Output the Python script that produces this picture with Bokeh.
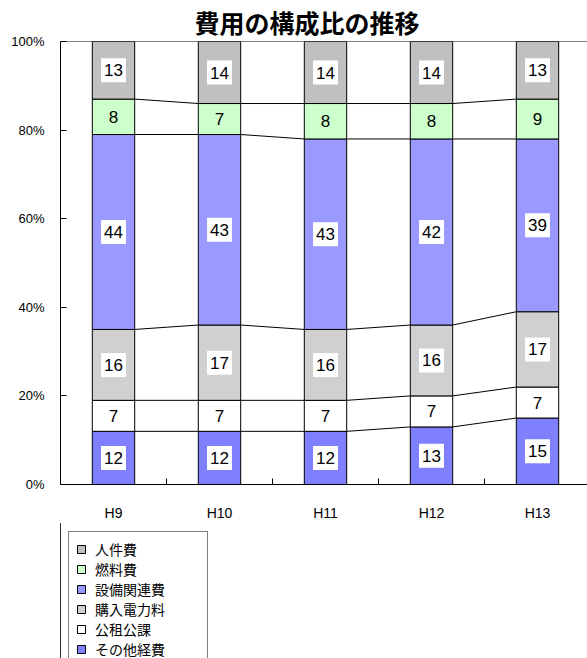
import numpy as np
from bokeh.plotting import figure
from bokeh.layouts import column
from bokeh.models import (ColumnDataSource, Range1d, FixedTicker, Legend, LegendItem,
                          PrintfTickFormatter, Span)
from bokeh.core.properties import value
from bokeh.embed import file_html
from bokeh.resources import INLINE

# ---- data (percent shares, bottom to top) ----
categories = ["H9", "H10", "H11", "H12", "H13"]
series_names = ["その他経費", "公租公課", "購入電力料", "設備関連費", "燃料費", "人件費"]
other_costs = [12, 12, 12, 13, 15]
taxes = [7, 7, 7, 7, 7]
purchased_power = [16, 17, 16, 16, 17]
equipment = [44, 43, 43, 42, 39]
fuel = [8, 7, 8, 8, 9]
personnel = [13, 14, 14, 14, 13]
colors = ["#8080FF", "#FFFFFF", "#D0D0D0", "#9999FF", "#CCFFCC", "#C0C0C0"]
boxed = [True, False, True, True, False, True]
y_ticks = [0, 20, 40, 60, 80, 100]

series = [other_costs, taxes, purchased_power, equipment, fuel, personnel]
n = len(categories)
xs = np.arange(n) + 0.5
keys = [f"s{i}" for i in range(len(series))]
data = {"x": xs}
for k, s in zip(keys, series):
    data[k] = s
src = ColumnDataSource(data)

LATIN = "Liberation Sans"
CJK = "Noto Sans CJK JP"

p = figure(width=587, height=523, output_backend="svg", toolbar_location=None,
           x_range=Range1d(0, 527 / 106), y_range=Range1d(0, 100),
           min_border_left=60, min_border_right=0, min_border_top=40, min_border_bottom=38)
p.outline_line_color = None
p.xgrid.visible = False
p.ygrid.visible = False
p.background_fill_color = "white"
p.border_fill_color = "white"

p.title.text = "費用の構成比の推移"
p.title.text_font = CJK
p.title.text_font_size = "25px"
p.title.text_font_style = "bold"
p.title.text_color = "black"
p.title.align = "left"
p.title.offset = 134
p.title.standoff = 3

# y axis
p.yaxis.ticker = FixedTicker(ticks=y_ticks)
p.yaxis.formatter = PrintfTickFormatter(format="%d%%")
p.yaxis.major_tick_in = 6
p.yaxis.major_tick_out = 0
p.yaxis.minor_tick_in = 0
p.yaxis.minor_tick_out = 0
p.yaxis.major_label_standoff = 16
p.yaxis.major_label_text_font = LATIN
p.yaxis.major_label_text_font_size = "13px"
p.yaxis.major_label_text_color = "black"
p.yaxis.axis_line_color = "black"
p.yaxis.major_tick_line_color = "black"

# x axis: labels at category centers, ticks at category boundaries
p.xaxis.ticker = FixedTicker(ticks=list(xs), minor_ticks=list(np.arange(1, n)))
p.xaxis.major_label_overrides = {float(x): c for x, c in zip(xs, categories)}
p.xaxis.major_tick_in = 0
p.xaxis.major_tick_out = 0
p.xaxis.minor_tick_in = 6
p.xaxis.minor_tick_out = 0
p.xaxis.major_label_standoff = 20
p.xaxis.major_label_text_font = LATIN
p.xaxis.major_label_text_font_size = "14px"
p.xaxis.major_label_text_color = "black"
p.xaxis.axis_line_color = "black"
p.xaxis.minor_tick_line_color = "black"

# top border line
p.add_layout(Span(location=p.y_range.end, dimension="width", line_color="black", line_width=1))

w = 0.4
renderers = p.vbar_stack(keys, x="x", width=w, source=src,
                         fill_color=colors, line_color="black", line_width=1)

# connecting lines between stacked boundaries
cum = np.cumsum(np.array(series), axis=0)
for level in cum[:-1]:
    p.segment(x0=xs[:-1] + w / 2, y0=level[:-1], x1=xs[1:] - w / 2, y1=level[1:],
              line_color="black", line_width=1)

# value labels
bottoms = np.vstack([np.zeros(n), cum[:-1]])
for s, b, bx in zip(series, bottoms, boxed):
    mids = b + np.array(s) / 2
    lsrc = ColumnDataSource(dict(x=xs, y=mids, t=[str(v) for v in s]))
    if bx:
        p.text(x="x", y="y", text="t", source=lsrc, text_align="center",
               text_baseline="middle", text_font=value(LATIN), text_font_size="17px",
               text_color="black", background_fill_color="white",
               padding=dict(left=3, right=3, top=6, bottom=6))
    else:
        p.text(x="x", y="y", text="t", source=lsrc, text_align="center",
               text_baseline="middle", text_font=value(LATIN), text_font_size="17px",
               text_color="black")

# ---- legend panel (separate strip below the chart) ----
p2 = figure(width=587, height=135, output_backend="svg", toolbar_location=None,
            x_range=Range1d(0, 1), y_range=Range1d(0, 1),
            min_border=0, min_border_left=0, min_border_right=0,
            min_border_top=0, min_border_bottom=0)
p2.axis.visible = False
p2.xgrid.visible = False
p2.ygrid.visible = False
p2.outline_line_color = None

# swatch renderers for the legend (kept outside the visible range of this strip)
swatches = [p2.vbar(x=[-5], top=[1], width=0.1, fill_color=c, line_color="black")
            for c in colors]
items = [LegendItem(label=name, renderers=[r])
         for name, r in reversed(list(zip(series_names, swatches)))]
legend = Legend(items=items, location="top_left", padding=7, spacing=0,
                label_height=18, glyph_height=10, glyph_width=10, label_standoff=9,
                label_width=105, label_text_font=CJK, label_text_font_size="14px",
                label_text_color="black",
                border_line_color="black", border_line_width=1,
                background_fill_color="white", background_fill_alpha=1, margin=8)
p2.add_layout(legend, "center")

layout = column(p, p2, spacing=0)
open("out.html", "w").write(file_html(layout, INLINE))
